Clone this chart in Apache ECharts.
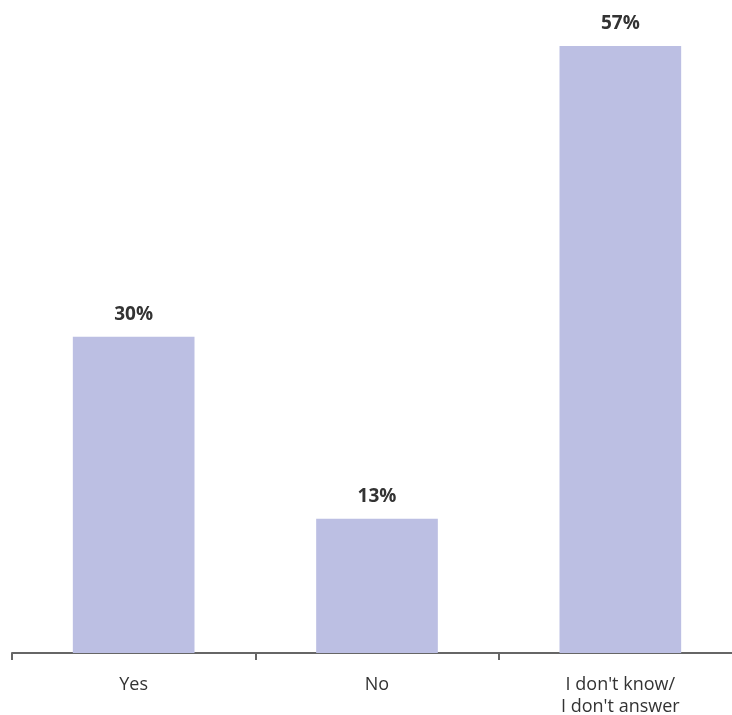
<!DOCTYPE html>
<html>
<head>
<meta charset="utf-8">
<script src="https://cdn.jsdelivr.net/npm/echarts@6/dist/echarts.min.js"></script>
<style>html,body{margin:0;padding:0;background:#fff;}#c{width:732px;height:715px;}</style>
</head>
<body>
<div id="c"></div>
<script>
const categories = ["Yes", "No", "I don't know/\nI don't answer"];
const values = [29.7, 12.6, 57];
const labels = ["30%", "13%", "57%"];

const chart = echarts.init(document.getElementById('c'), null, {renderer: 'canvas'});
chart.setOption({
  animation: false,
  grid: {left: 12, top: 46, bottom: 62, right: -10, containLabel: false, outerBoundsMode: 'none'},
  xAxis: {
    type: 'category',
    data: categories,
    axisLine: {lineStyle: {color: '#666', width: 2}},
    axisTick: {show: true, length: 7, lineStyle: {color: '#666', width: 2}},
    axisLabel: {color: '#333', fontSize: 18, fontFamily: 'Open Sans', margin: 21, lineHeight: 22}
  },
  yAxis: {type: 'value', min: 0, max: 57, show: false, splitLine: {show: false}},
  series: [{
    type: 'bar',
    data: values,
    barWidth: '50%',
    itemStyle: {color: '#bcbfe3'},
    label: {
      show: true, position: 'top', distance: 13,
      formatter: p => labels[p.dataIndex],
      color: '#333', fontWeight: 'bold', fontSize: 19, fontFamily: 'Open Sans'
    }
  }]
});
</script>
</body>
</html>
